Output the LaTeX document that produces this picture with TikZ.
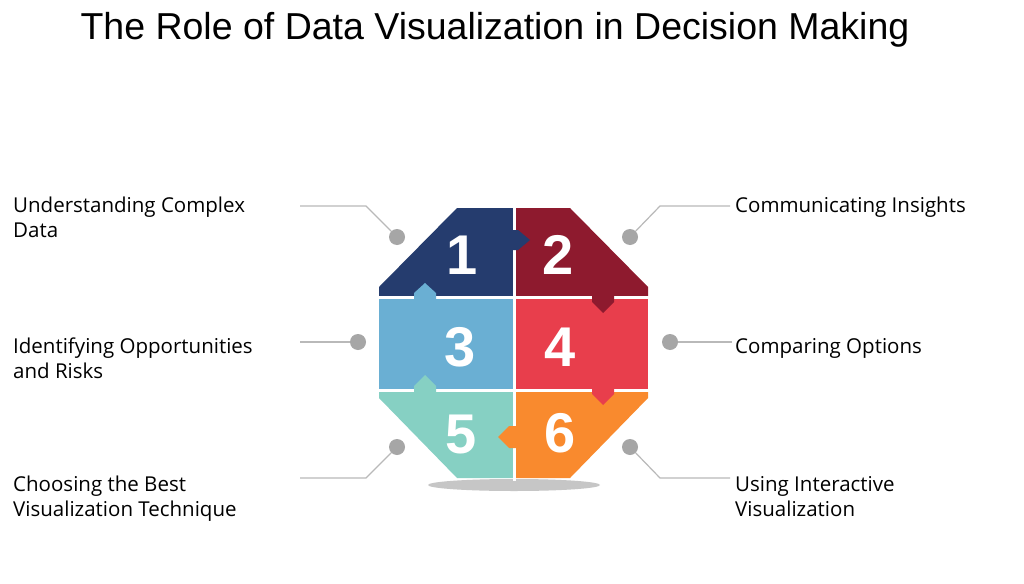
\documentclass[tikz,border=0pt]{standalone}
\usepackage{fontspec}
\setmainfont{Liberation Sans}
\newfontfamily\labelfont{Open Sans}
\begin{document}
\begin{tikzpicture}[x=1pt,y=-1pt,
  lbl/.style={anchor=north west,align=left,font=\labelfont\fontsize{20.5}{25}\selectfont,inner sep=0pt},
  num/.style={text=white,font=\bfseries\fontsize{56}{56}\selectfont},
  dot/.style={circle,fill=gray!70,minimum size=16pt,inner sep=0pt},
  lead/.style={draw=gray!55,line width=1.2pt},
  gap/.style={draw=white,line width=3pt}]
\useasboundingbox[fill=white] (0,0) rectangle (1024,583);
\definecolor{c1}{HTML}{253C6E}\definecolor{c2}{HTML}{8E1A2E}
\definecolor{c3}{HTML}{6AAFD3}\definecolor{c4}{HTML}{E83E4C}
\definecolor{c5}{HTML}{86D0C3}\definecolor{c6}{HTML}{F98A2E}
\node[font=\fontsize{37.5}{40}\selectfont] (title) at (495,30) {The Role of Data Visualization in Decision Making};
\fill[gray!45] (514,485) ellipse [x radius=86, y radius=6];
% pieces
\fill[c1] (379,297) -- (379,287) -- (457,208) -- (514,208) -- (514,297) -- cycle;
\fill[c2] (514,208) -- (570,208) -- (648,287) -- (648,297) -- (514,297) -- cycle;
\fill[c3] (379,297) rectangle (514,390);
\fill[c4] (514,297) rectangle (648,390);
\fill[c5] (379,390) -- (514,390) -- (514,478) -- (457,478) -- (379,398) -- cycle;
\fill[c6] (514,390) -- (648,390) -- (648,398) -- (570,478) -- (514,478) -- cycle;
\draw[gap] (514,205) -- (514,481);
\draw[gap] (376,297) -- (651,297);
\draw[gap] (376,390) -- (651,390);
% tabs
\fill[c1] (500,230) -- (518,230) -- (530,240) -- (518,250) -- (500,250) -- cycle;
\fill[c3] (414,306) -- (414,293) -- (425,283) -- (436,293) -- (436,306) -- cycle;
\fill[c2] (592,288) -- (592,302) -- (603,313) -- (614,302) -- (614,288) -- cycle;
\fill[c4] (592,381) -- (592,394) -- (603,405) -- (614,394) -- (614,381) -- cycle;
\fill[c5] (414,399) -- (414,386) -- (425,375) -- (436,386) -- (436,399) -- cycle;
\fill[c6] (528,426) -- (509,426) -- (498,437) -- (509,448) -- (528,448) -- cycle;
\node[num] (n1) at (462,255) {1};
\node[num] (n2) at (558,255) {2};
\node[num] (n3) at (460,347) {3};
\node[num] (n4) at (560,347) {4};
\node[num] (n5) at (461,435) {5};
\node[num] (n6) at (560,433) {6};
% dots and leaders
\node[dot] (d1) at (397,237) {};
\node[dot] (d2) at (630,237) {};
\node[dot] (d3) at (358,342) {};
\node[dot] (d4) at (670,342) {};
\node[dot] (d5) at (397,447) {};
\node[dot] (d6) at (630,447) {};
\coordinate (k1) at (366,206); \coordinate (e1) at (300,206);
\coordinate (k2) at (660,206); \coordinate (e2) at (730,206);
\coordinate (e3) at (300,342); \coordinate (e4) at (732,342);
\coordinate (k5) at (366,478); \coordinate (e5) at (300,478);
\coordinate (k6) at (660,478); \coordinate (e6) at (730,478);
\draw[lead] (d1) -- (k1) -- (e1);
\draw[lead] (d2) -- (k2) -- (e2);
\draw[lead] (d3) -- (e3);
\draw[lead] (d4) -- (e4);
\draw[lead] (d5) -- (k5) -- (e5);
\draw[lead] (d6) -- (k6) -- (e6);
\node[lbl] (t1) at (13,197) {Understanding Complex\\Data};
\node[lbl] (t3) at (13,338) {Identifying Opportunities\\and Risks};
\node[lbl] (t5) at (13,476) {Choosing the Best\\Visualization Technique};
\node[lbl] (t2) at (735,197) {Communicating Insights};
\node[lbl] (t4) at (735,338) {Comparing Options};
\node[lbl] (t6) at (735,476) {Using Interactive\\Visualization};
\end{tikzpicture}
\end{document}
